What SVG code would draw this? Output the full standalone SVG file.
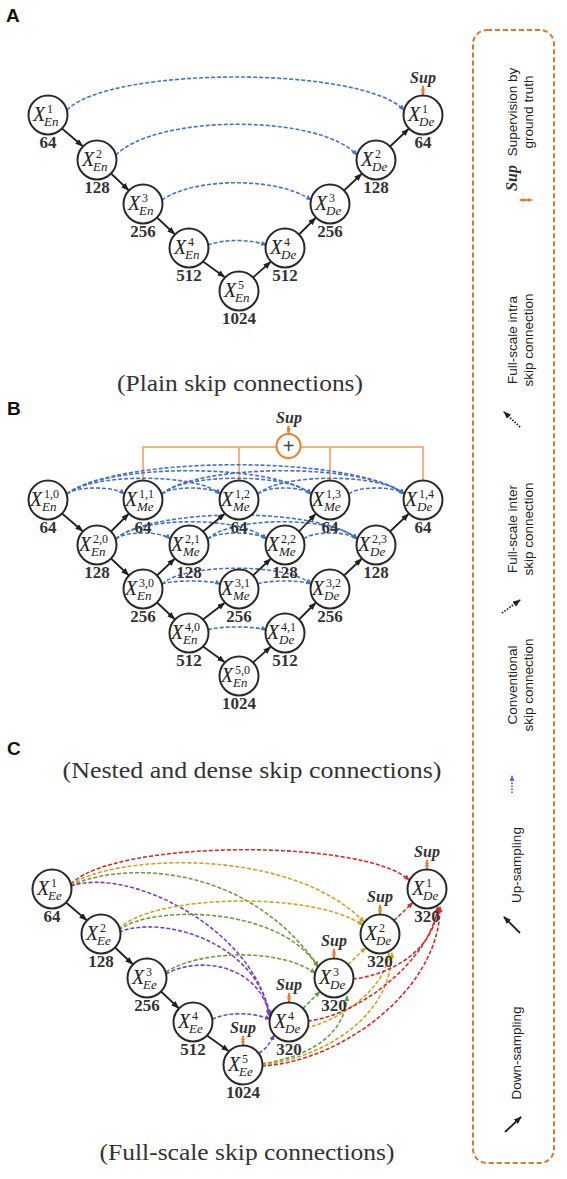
<svg xmlns="http://www.w3.org/2000/svg" width="567" height="1179" viewBox="0 0 567 1179">
<style>
.nd{fill:#fff;stroke:#2a2a2a;stroke-width:2}
.x{font-family:"Liberation Serif",serif;font-style:italic;font-size:20px;fill:#222}
.sp{font-family:"Liberation Serif",serif;font-size:12px;fill:#222}
.sb{font-family:"Liberation Serif",serif;font-style:italic;font-size:13px;fill:#222}
.num{font-family:"Liberation Serif",serif;font-weight:bold;font-size:17px;fill:#333;text-anchor:middle}
.sup{font-family:"Liberation Serif",serif;font-weight:bold;font-style:italic;font-size:16px;fill:#333;text-anchor:middle}
.cap{font-family:"Liberation Serif",serif;font-size:24px;fill:#333;text-anchor:middle}
.pl{font-family:"Liberation Sans",Arial,sans-serif;font-weight:bold;font-size:19px;fill:#111}
.dn{stroke:#222;stroke-width:1.8;fill:none;marker-end:url(#ab)}
.bl{stroke:#4472c4;stroke-width:1.6;fill:none;stroke-dasharray:4 2;marker-end:url(#abl)}
.rd{stroke:#d42a2a;stroke-width:1.6;fill:none;stroke-dasharray:4 2;marker-end:url(#ar)}
.yl{stroke:#cfa22a;stroke-width:1.6;fill:none;stroke-dasharray:4 2;marker-end:url(#ay)}
.gn{stroke:#6a9b3f;stroke-width:1.6;fill:none;stroke-dasharray:4 2;marker-end:url(#ag)}
.pp{stroke:#7b3fc4;stroke-width:1.6;fill:none;stroke-dasharray:4 2;marker-end:url(#ap)}
.sa{stroke:#ee7d31;stroke-width:2;marker-start:url(#ao);marker-end:url(#ao)}
.tree{stroke:#f4b183;stroke-width:2;fill:none}
.lg{font-family:"Liberation Sans",Arial,sans-serif;font-size:13.5px;fill:#222;text-anchor:middle}
.dot{stroke:#222;stroke-width:1.8;fill:none;stroke-dasharray:1.5 1.5;marker-end:url(#ab)}
</style>
<defs>
<marker id="ab" viewBox="0 0 8 6" refX="7" refY="3" markerWidth="8" markerHeight="6" markerUnits="userSpaceOnUse" orient="auto"><path d="M0,0 L8,3 L0,6 z" fill="#222"/></marker>
<marker id="abl" viewBox="0 0 6 5" refX="5" refY="2.5" markerWidth="6" markerHeight="5" markerUnits="userSpaceOnUse" orient="auto"><path d="M0,0 L6,2.5 L0,5 z" fill="#4472c4"/></marker>
<marker id="ar" viewBox="0 0 6 5" refX="5" refY="2.5" markerWidth="6" markerHeight="5" markerUnits="userSpaceOnUse" orient="auto"><path d="M0,0 L6,2.5 L0,5 z" fill="#d42a2a"/></marker>
<marker id="ay" viewBox="0 0 6 5" refX="5" refY="2.5" markerWidth="6" markerHeight="5" markerUnits="userSpaceOnUse" orient="auto"><path d="M0,0 L6,2.5 L0,5 z" fill="#cfa22a"/></marker>
<marker id="ag" viewBox="0 0 6 5" refX="5" refY="2.5" markerWidth="6" markerHeight="5" markerUnits="userSpaceOnUse" orient="auto"><path d="M0,0 L6,2.5 L0,5 z" fill="#6a9b3f"/></marker>
<marker id="ap" viewBox="0 0 6 5" refX="5" refY="2.5" markerWidth="6" markerHeight="5" markerUnits="userSpaceOnUse" orient="auto"><path d="M0,0 L6,2.5 L0,5 z" fill="#7b3fc4"/></marker>
<marker id="ao" viewBox="0 0 5 4" refX="4" refY="2" markerWidth="5" markerHeight="4" markerUnits="userSpaceOnUse" orient="auto-start-reverse"><path d="M0,0 L5,2 L0,4 z" fill="#ee7d31"/></marker>
</defs>
<rect width="567" height="1179" fill="#fff"/>

<!-- ===== Panel A ===== -->
<text class="pl" x="6" y="22">A</text>
<g id="a-connectors">
<path class="bl" d="M67,110 C110,66 362,66 404,110"/>
<path class="bl" d="M116,155 C156,114 320,114 357,155"/>
<path class="bl" d="M162,200 C195,177 278,177 311,200"/>
<path class="bl" d="M208,245 C225,239 250,239 266,245"/>
<path class="dn" d="M62,128.5 L82.5,146"/>
<path class="dn" d="M111,173.5 L128.5,190"/>
<path class="dn" d="M157,217.5 L174.5,234"/>
<path class="dn" d="M203,261.5 L224.5,277"/>
<path class="dn" d="M253,277.5 L270.5,262"/>
<path class="dn" d="M299,234.5 L315.5,218"/>
<path class="dn" d="M344,190.5 L361.5,174"/>
<path class="dn" d="M390,146.5 L408.5,129"/>
<line class="sa" x1="423" y1="95" x2="423" y2="86"/>
</g>
<g id="a-en1"><circle class="nd" cx="48" cy="115" r="19.5"/><text class="x" x="33" y="121">X</text><text class="sp" x="47" y="113">1</text><text class="sb" x="44" y="126">En</text><text class="num" x="48" y="148">64</text></g>
<g id="a-en2"><circle class="nd" cx="97" cy="160" r="19.5"/><text class="x" x="82" y="166">X</text><text class="sp" x="96" y="158">2</text><text class="sb" x="93" y="171">En</text><text class="num" x="97" y="193">128</text></g>
<g id="a-en3"><circle class="nd" cx="143" cy="204" r="19.5"/><text class="x" x="128" y="210">X</text><text class="sp" x="142" y="202">3</text><text class="sb" x="139" y="215">En</text><text class="num" x="143" y="237">256</text></g>
<g id="a-en4"><circle class="nd" cx="189" cy="248" r="19.5"/><text class="x" x="174" y="254">X</text><text class="sp" x="188" y="246">4</text><text class="sb" x="185" y="259">En</text><text class="num" x="189" y="281">512</text></g>
<g id="a-en5"><circle class="nd" cx="239" cy="291" r="19.5"/><text class="x" x="224" y="297">X</text><text class="sp" x="238" y="289">5</text><text class="sb" x="235" y="302">En</text><text class="num" x="239" y="324">1024</text></g>
<g id="a-de4"><circle class="nd" cx="285" cy="248" r="19.5"/><text class="x" x="270" y="254">X</text><text class="sp" x="284" y="246">4</text><text class="sb" x="281" y="259">De</text><text class="num" x="285" y="281">512</text></g>
<g id="a-de3"><circle class="nd" cx="330" cy="204" r="19.5"/><text class="x" x="315" y="210">X</text><text class="sp" x="329" y="202">3</text><text class="sb" x="326" y="215">De</text><text class="num" x="330" y="237">256</text></g>
<g id="a-de2"><circle class="nd" cx="376" cy="160" r="19.5"/><text class="x" x="361" y="166">X</text><text class="sp" x="375" y="158">2</text><text class="sb" x="372" y="171">De</text><text class="num" x="376" y="193">128</text></g>
<g id="a-de1"><circle class="nd" cx="423" cy="115" r="19.5"/><text class="x" x="408" y="121">X</text><text class="sp" x="422" y="113">1</text><text class="sb" x="419" y="126">De</text><text class="num" x="423" y="148">64</text><text class="sup" x="423" y="83">Sup</text></g>
<text class="cap" x="240" y="391" textLength="246" lengthAdjust="spacingAndGlyphs">(Plain skip connections)</text>

<!-- ===== Panel B ===== -->
<text class="pl" x="7" y="415">B</text>
<g transform="translate(0,385)">
<g id="b-connectors">
<path class="tree" d="M143,95 V62 H276.5 M300.5,62 H423 V95 M239,62 V95 M330,62 V95"/>
<line class="sa" x1="288.5" y1="48" x2="288.5" y2="41"/>
<path class="bl" d="M67,109 C75.5,101 115.5,101 124,109"/>
<path class="bl" d="M67,109 C90,88 197,88 220,109"/>
<path class="bl" d="M67,109 C104,78 274,78 311,109"/>
<path class="bl" d="M67,109 C118,70 354,70 404,109"/>
<path class="bl" d="M162,109 C171,101 211,101 220,109"/>
<path class="bl" d="M162,109 C184,88 289,88 311,109"/>
<path class="bl" d="M162,109 C198,78 368,78 404,109"/>
<path class="bl" d="M258,109 C266,101 303,101 311,109"/>
<path class="bl" d="M258,109 C280,88 382,88 404,109"/>
<path class="bl" d="M349,109 C357,101 396,101 404,109"/>
<path class="bl" d="M116,154 C124,146 162,146 170,154"/>
<path class="bl" d="M116,154 C138.5,131 243.5,131 266,154"/>
<path class="bl" d="M116,154 C152,122 321,122 357,154"/>
<path class="bl" d="M208,154 C217,146 257,146 266,154"/>
<path class="bl" d="M208,154 C230,131 335,131 357,154"/>
<path class="bl" d="M304,154 C312,146 349,146 357,154"/>
<path class="bl" d="M162,199 C171,195 211,195 220,199"/>
<path class="bl" d="M162,199 C184,178 289,178 311,199"/>
<path class="bl" d="M258,199 C266,195 303,195 311,199"/>
<path class="bl" d="M208,245 C217,241 257,241 266,245"/>
<path class="dn" d="M62,128.5 L82.5,146"/>
<path class="dn" d="M111,173.5 L128.5,190"/>
<path class="dn" d="M157,217.5 L174.5,234"/>
<path class="dn" d="M203,261.5 L224.5,277"/>
<path class="dn" d="M111,146.5 L128.5,129"/>
<path class="dn" d="M157,190.5 L174.5,174"/>
<path class="dn" d="M203,146.5 L224.5,129"/>
<path class="dn" d="M203,234.5 L224.5,218"/>
<path class="dn" d="M253,190.5 L270.5,174"/>
<path class="dn" d="M299,146.5 L315.5,129"/>
<path class="dn" d="M253,277.5 L270.5,262"/>
<path class="dn" d="M299,234.5 L315.5,218"/>
<path class="dn" d="M344,190.5 L361.5,174"/>
<path class="dn" d="M390,146.5 L408.5,129"/>
</g>
<g id="b-sum"><circle cx="288.5" cy="61" r="12" fill="#fff" stroke="#ee7d31" stroke-width="2"/><text x="288.5" y="67.5" font-family="Liberation Sans,Arial,sans-serif" font-size="20" fill="#444" text-anchor="middle">+</text><text class="sup" x="289" y="38">Sup</text></g>
<g id="b-1-0"><circle class="nd" cx="48" cy="115" r="19.5"/><text class="x" x="30" y="121">X</text><text class="sp" x="44" y="113">1,0</text><text class="sb" x="42" y="126">En</text><text class="num" x="48" y="148">64</text></g>
<g id="b-1-1"><circle class="nd" cx="143" cy="115" r="19.5"/><text class="x" x="125" y="121">X</text><text class="sp" x="139" y="113">1,1</text><text class="sb" x="137" y="126">Me</text><text class="num" x="143" y="148">64</text></g>
<g id="b-1-2"><circle class="nd" cx="239" cy="115" r="19.5"/><text class="x" x="221" y="121">X</text><text class="sp" x="235" y="113">1,2</text><text class="sb" x="233" y="126">Me</text><text class="num" x="239" y="148">64</text></g>
<g id="b-1-3"><circle class="nd" cx="330" cy="115" r="19.5"/><text class="x" x="312" y="121">X</text><text class="sp" x="326" y="113">1,3</text><text class="sb" x="324" y="126">Me</text><text class="num" x="330" y="148">64</text></g>
<g id="b-1-4"><circle class="nd" cx="423" cy="115" r="19.5"/><text class="x" x="405" y="121">X</text><text class="sp" x="419" y="113">1,4</text><text class="sb" x="417" y="126">De</text><text class="num" x="423" y="148">64</text></g>
<g id="b-2-0"><circle class="nd" cx="97" cy="160" r="19.5"/><text class="x" x="79" y="166">X</text><text class="sp" x="93" y="158">2,0</text><text class="sb" x="91" y="171">En</text><text class="num" x="97" y="193">128</text></g>
<g id="b-2-1"><circle class="nd" cx="189" cy="160" r="19.5"/><text class="x" x="171" y="166">X</text><text class="sp" x="185" y="158">2,1</text><text class="sb" x="183" y="171">Me</text><text class="num" x="189" y="193">128</text></g>
<g id="b-2-2"><circle class="nd" cx="285" cy="160" r="19.5"/><text class="x" x="267" y="166">X</text><text class="sp" x="281" y="158">2,2</text><text class="sb" x="279" y="171">Me</text><text class="num" x="285" y="193">128</text></g>
<g id="b-2-3"><circle class="nd" cx="376" cy="160" r="19.5"/><text class="x" x="358" y="166">X</text><text class="sp" x="372" y="158">2,3</text><text class="sb" x="370" y="171">De</text><text class="num" x="376" y="193">128</text></g>
<g id="b-3-0"><circle class="nd" cx="143" cy="204" r="19.5"/><text class="x" x="125" y="210">X</text><text class="sp" x="139" y="202">3,0</text><text class="sb" x="137" y="215">En</text><text class="num" x="143" y="237">256</text></g>
<g id="b-3-1"><circle class="nd" cx="239" cy="204" r="19.5"/><text class="x" x="221" y="210">X</text><text class="sp" x="235" y="202">3,1</text><text class="sb" x="233" y="215">Me</text><text class="num" x="239" y="237">256</text></g>
<g id="b-3-2"><circle class="nd" cx="330" cy="204" r="19.5"/><text class="x" x="312" y="210">X</text><text class="sp" x="326" y="202">3,2</text><text class="sb" x="324" y="215">De</text><text class="num" x="330" y="237">256</text></g>
<g id="b-4-0"><circle class="nd" cx="189" cy="248" r="19.5"/><text class="x" x="171" y="254">X</text><text class="sp" x="185" y="246">4,0</text><text class="sb" x="183" y="259">En</text><text class="num" x="189" y="281">512</text></g>
<g id="b-4-1"><circle class="nd" cx="285" cy="248" r="19.5"/><text class="x" x="267" y="254">X</text><text class="sp" x="281" y="246">4,1</text><text class="sb" x="279" y="259">De</text><text class="num" x="285" y="281">512</text></g>
<g id="b-5-0"><circle class="nd" cx="239" cy="291" r="19.5"/><text class="x" x="221" y="297">X</text><text class="sp" x="235" y="289">5,0</text><text class="sb" x="233" y="302">En</text><text class="num" x="239" y="324">1024</text></g>
</g>
<text class="pl" x="7" y="755">C</text>
<text class="cap" x="252" y="778" textLength="379" lengthAdjust="spacingAndGlyphs">(Nested and dense skip connections)</text>

<!-- ===== Panel C ===== -->
<g transform="translate(4,774)">
<g id="c-connectors">
<path class="rd" d="M67,110 C111,65 361,65 405,106"/>
<path class="yl" d="M67,111 C106,81 286,71 360,148"/>
<path class="gn" d="M67,112 C106,91 236,81 314,192"/>
<path class="pp" d="M67,112 C126,92 251,156 265,241"/>
<path class="yl" d="M115,155 C146,121 306,116 359,151"/>
<path class="gn" d="M115,156 C146,131 276,131 314,193"/>
<path class="pp" d="M115,158 C156,141 251,166 266,241"/>
<path class="gn" d="M162,198 C196,176 276,174 311,199"/>
<path class="pp" d="M162,200 C196,181 256,191 266,243"/>
<path class="pp" d="M208,245 C226,238 246,238 266,245"/>
<path class="pp" d="M255,279 Q264,274 270,261"/>
<path class="gn" d="M258,290 C296,284 341,266 343,222"/>
<path class="yl" d="M258,291 C316,284 386,246 388,179"/>
<path class="rd" d="M258,292 C336,288 436,216 436,133"/>
<path class="gn" d="M299,234.5 L315.5,218"/>
<path class="yl" d="M302,254 C336,246 381,216 385,179"/>
<path class="rd" d="M304,247 C356,241 426,186 434,133"/>
<path class="yl" d="M344,190.5 L361.5,174"/>
<path class="rd" d="M349,205 C386,201 431,176 433,134"/>
<path class="rd" d="M390,146.5 L408.5,129"/>
<path class="dn" d="M62,128.5 L82.5,146"/>
<path class="dn" d="M111,173.5 L128.5,190"/>
<path class="dn" d="M157,217.5 L174.5,234"/>
<path class="dn" d="M203,261.5 L224.5,277"/>
<line class="sa" x1="239" y1="271" x2="239" y2="262"/>
<line class="sa" x1="285" y1="228" x2="285" y2="219"/>
<line class="sa" x1="330" y1="184" x2="330" y2="175"/>
<line class="sa" x1="376" y1="140" x2="376" y2="131"/>
<line class="sa" x1="423" y1="95" x2="423" y2="86"/>
</g>
<g id="c-ee1"><circle class="nd" cx="48" cy="115" r="19.5"/><text class="x" x="33" y="121">X</text><text class="sp" x="47" y="113">1</text><text class="sb" x="44" y="126">Ee</text><text class="num" x="48" y="148">64</text></g>
<g id="c-ee2"><circle class="nd" cx="97" cy="160" r="19.5"/><text class="x" x="82" y="166">X</text><text class="sp" x="96" y="158">2</text><text class="sb" x="93" y="171">Ee</text><text class="num" x="97" y="193">128</text></g>
<g id="c-ee3"><circle class="nd" cx="143" cy="204" r="19.5"/><text class="x" x="128" y="210">X</text><text class="sp" x="142" y="202">3</text><text class="sb" x="139" y="215">Ee</text><text class="num" x="143" y="237">256</text></g>
<g id="c-ee4"><circle class="nd" cx="189" cy="248" r="19.5"/><text class="x" x="174" y="254">X</text><text class="sp" x="188" y="246">4</text><text class="sb" x="185" y="259">Ee</text><text class="num" x="189" y="281">512</text></g>
<g id="c-ee5"><circle class="nd" cx="239" cy="291" r="19.5"/><text class="x" x="224" y="297">X</text><text class="sp" x="238" y="289">5</text><text class="sb" x="235" y="302">Ee</text><text class="num" x="239" y="324">1024</text><text class="sup" x="239" y="259">Sup</text></g>
<g id="c-de4"><circle class="nd" cx="285" cy="248" r="19.5"/><text class="x" x="270" y="254">X</text><text class="sp" x="284" y="246">4</text><text class="sb" x="281" y="259">De</text><text class="num" x="285" y="281">320</text><text class="sup" x="285" y="216">Sup</text></g>
<g id="c-de3"><circle class="nd" cx="330" cy="204" r="19.5"/><text class="x" x="315" y="210">X</text><text class="sp" x="329" y="202">3</text><text class="sb" x="326" y="215">De</text><text class="num" x="330" y="237">320</text><text class="sup" x="330" y="172">Sup</text></g>
<g id="c-de2"><circle class="nd" cx="376" cy="160" r="19.5"/><text class="x" x="361" y="166">X</text><text class="sp" x="375" y="158">2</text><text class="sb" x="372" y="171">De</text><text class="num" x="376" y="193">320</text><text class="sup" x="376" y="128">Sup</text></g>
<g id="c-de1"><circle class="nd" cx="423" cy="115" r="19.5"/><text class="x" x="408" y="121">X</text><text class="sp" x="422" y="113">1</text><text class="sb" x="419" y="126">De</text><text class="num" x="423" y="148">320</text><text class="sup" x="423" y="83">Sup</text></g>
</g>
<text class="cap" x="247" y="1160" textLength="295" lengthAdjust="spacingAndGlyphs">(Full-scale skip connections)</text>

<!-- ===== Legend ===== -->
<g id="legend">
<rect x="473" y="30" width="81" height="1133" rx="14" fill="none" stroke="#d9772f" stroke-width="2" stroke-dasharray="5 3"/>
<text class="lg" transform="translate(517,112) rotate(-90)">Supervision by</text>
<text class="lg" transform="translate(533,112) rotate(-90)">ground truth</text>
<text class="sup" font-size="13" transform="translate(517,178) rotate(-90)">Sup</text>
<line class="sa" x1="520" y1="200" x2="532" y2="200"/>
<text class="lg" transform="translate(517,340) rotate(-90)">Full-scale intra</text>
<text class="lg" transform="translate(533,340) rotate(-90)">skip connection</text>
<path class="dot" d="M520,427 L504,412"/>
<text class="lg" transform="translate(517,529) rotate(-90)">Full-scale inter</text>
<text class="lg" transform="translate(533,529) rotate(-90)">skip connection</text>
<path class="dot" d="M502,613 L520,600"/>
<text class="lg" transform="translate(517,685) rotate(-90)">Conventional</text>
<text class="lg" transform="translate(533,685) rotate(-90)">skip connection</text>
<path d="M512,793 L512,776" stroke="#4472c4" stroke-width="1.8" fill="none" stroke-dasharray="1.5 1.5" marker-end="url(#abl)"/>
<text class="lg" transform="translate(521,865) rotate(-90)">Up-sampling</text>
<path class="dn" d="M520,933 L504,917"/>
<text class="lg" transform="translate(521,1053) rotate(-90)">Down-sampling</text>
<path class="dn" d="M505,1132 L521,1117"/>
</g>
</svg>
